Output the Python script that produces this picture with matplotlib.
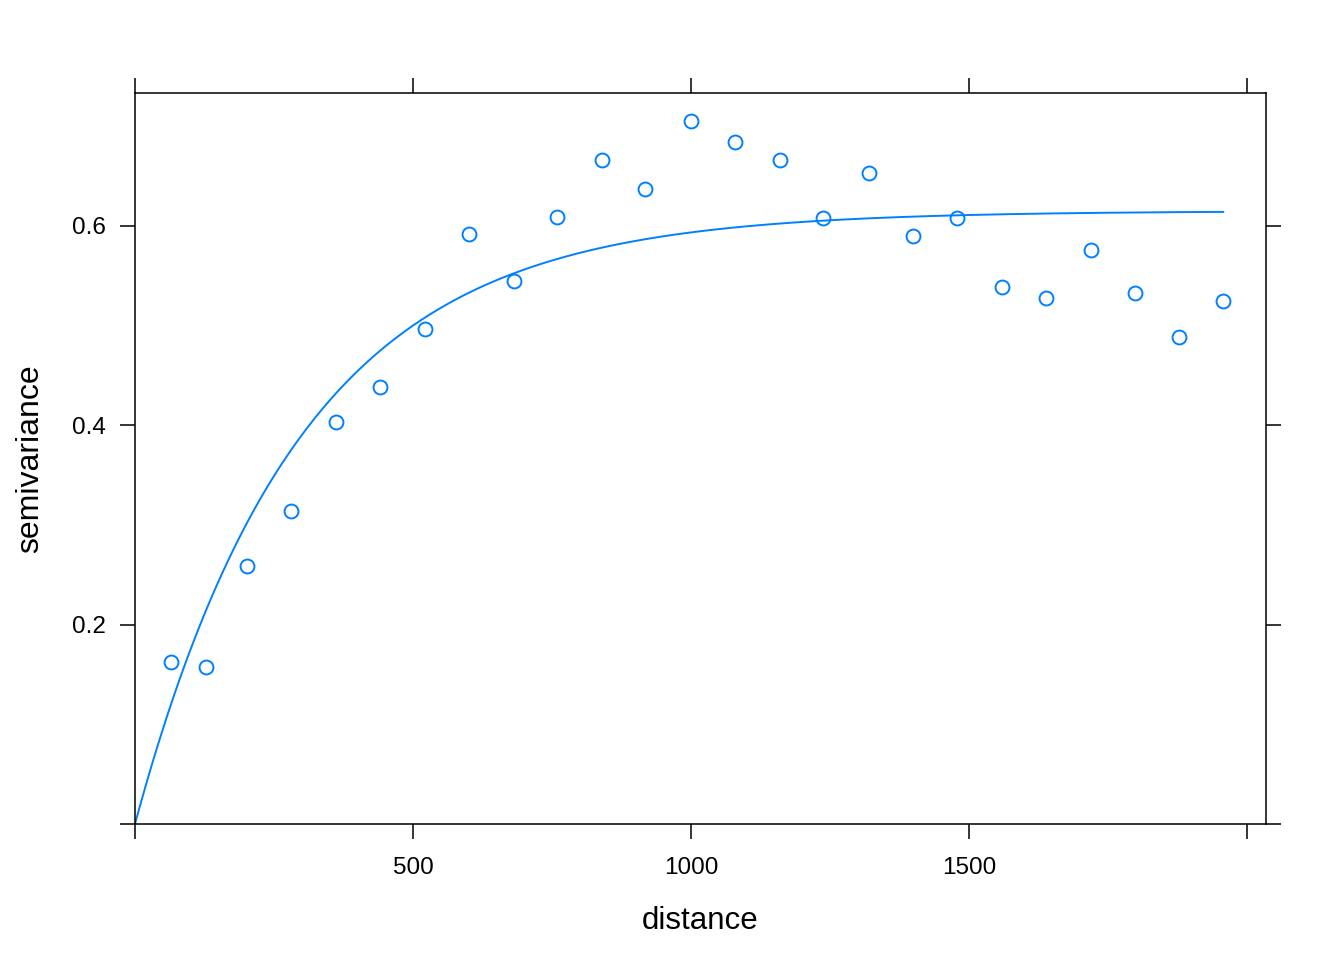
import numpy as np
import matplotlib
matplotlib.use("Agg")
import matplotlib.pyplot as plt

plt.rcParams['font.family'] = ['Liberation Sans', 'DejaVu Sans']

# sample variogram points
dist = [65, 128, 201, 281, 362, 441, 522, 601, 682, 759, 840, 917, 1000,
        1079, 1160, 1237, 1320, 1399, 1478, 1559, 1638, 1719, 1799, 1877, 1957]
gamma = [0.163, 0.158, 0.259, 0.314, 0.403, 0.438, 0.497, 0.592, 0.545, 0.609,
         0.666, 0.637, 0.705, 0.684, 0.666, 0.608, 0.653, 0.590, 0.608, 0.539,
         0.528, 0.576, 0.533, 0.489, 0.525]

# fitted exponential model (nugget 0)
SILL = 0.615
RANGE = 298.0
MAX_DIST = 1957

BLUE = "#0080ff"

fig = plt.figure(figsize=(13.44, 9.6), dpi=100)
ax = fig.add_axes([135/1344, 1 - 824/960, (1266-135)/1344, (824-93)/960])

ax.plot(dist, gamma, linestyle='none', marker='o', markersize=10,
        markerfacecolor='none', markeredgecolor=BLUE, markeredgewidth=1.4)

h = np.linspace(0, MAX_DIST, 400)
ax.plot(h, SILL * (1 - np.exp(-h / RANGE)), color=BLUE, linewidth=1.4)

ax.set_xlim(0, 2034)
ax.set_ylim(0, 0.7334)

xt = [0, 500, 1000, 1500, 2000]
ax.set_xticks(xt)
ax.set_xticklabels(['', '500', '1000', '1500', ''])
yt = [0, 0.2, 0.4, 0.6]
ax.set_yticks(yt)
ax.set_yticklabels(['', '0.2', '0.4', '0.6'])

ax.tick_params(axis='both', direction='out', length=11, width=1.1,
               labelsize=17.5, top=True, right=True, color='black')
ax.tick_params(axis='x', pad=13)
ax.tick_params(axis='y', pad=10)

for s in ax.spines.values():
    s.set_linewidth(1.1)
    s.set_color('black')

ax.set_xlabel('distance', fontsize=22.5, labelpad=19)
ax.set_ylabel('semivariance', fontsize=23, labelpad=19)

fig.savefig('out.png', dpi=100)
